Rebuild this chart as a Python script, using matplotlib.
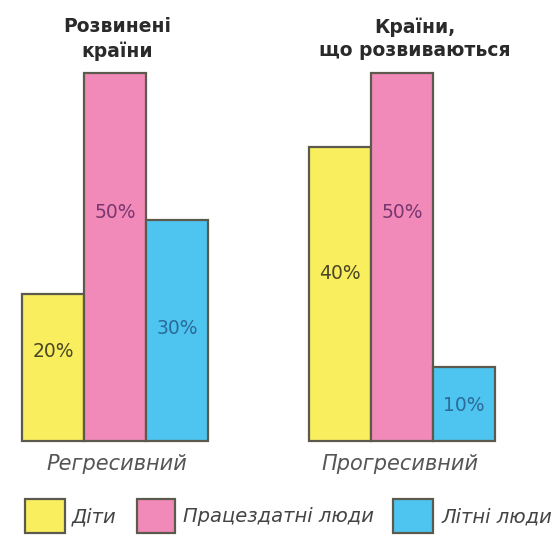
import matplotlib
matplotlib.use("Agg")
import matplotlib.pyplot as plt
from matplotlib.patches import Rectangle

# Data
groups = ["Розвинені\nкраїни", "Країни,\nщо розвиваються"]
pyramid_types = ["Регресивний", "Прогресивний"]
categories = ["Діти", "Працездатні люди", "Літні люди"]
values_developed = [20, 50, 30]
values_developing = [40, 50, 10]
value_labels_developed = ["20%", "50%", "30%"]
value_labels_developing = ["40%", "50%", "10%"]

colors = ["#f8ee5e", "#f28ab9", "#4ec4f0"]
edge = "#5c5a4c"
label_colors = ["#4a4626", "#7a3670", "#2c6a98"]
label_frac = [[0.61, 0.62, 0.51], [0.57, 0.62, 0.48]]

W, H = 559, 537
fig = plt.figure(figsize=(W / 100, H / 100), dpi=100)
ax = fig.add_axes([0, 0, 1, 1])
bw_px = 62.0
px_per_unit = 7.36
x_left = -0.5 - 22 / bw_px
ax.set_xlim(x_left, x_left + W / bw_px)
y_bot = -(537 - 441) / px_per_unit
ax.set_ylim(y_bot, y_bot + H / px_per_unit)
ax.axis("off")

group_offsets = [0.0, 4.63]
all_vals = [values_developed, values_developing]
all_labels = [value_labels_developed, value_labels_developing]
for g, (off, vals, labs) in enumerate(zip(group_offsets, all_vals, all_labels)):
    xs = [off + i for i in range(3)]
    ax.bar(xs, vals, width=1.0, color=colors, edgecolor=edge, linewidth=1.6)
    for i, (x, v, lab) in enumerate(zip(xs, vals, labs)):
        ax.text(x, v * label_frac[g][i], lab, ha="center", va="center",
                fontsize=13.5, color=label_colors[i], family="DejaVu Sans")

def fy(py):
    return 1 - py / H

def fx(px):
    return px / W

# titles
fig.text(fx(117), fy(39), groups[0], ha="center", va="center", fontsize=13.5,
         fontweight="bold", color="#2a2a2a", linespacing=1.3)
fig.text(fx(415), fy(39), groups[1], ha="center", va="center", fontsize=13.5,
         fontweight="bold", color="#2a2a2a", linespacing=1.3)

# pyramid type labels
fig.text(fx(117), fy(464), pyramid_types[0], ha="center", va="center",
         fontsize=15, style="italic", color="#555555")
fig.text(fx(400), fy(464), pyramid_types[1], ha="center", va="center",
         fontsize=15, style="italic", color="#555555")

# legend
sq = [(25, 65), (137, 175), (393, 433)]
txt_x = [72, 183, 442]
for (x0, x1), tx, c, name in zip(sq, txt_x, colors, categories):
    fig.patches.append(Rectangle((fx(x0), fy(533)), fx(x1) - fx(x0), fy(499) - fy(533),
                                 transform=fig.transFigure, facecolor=c,
                                 edgecolor=edge, linewidth=1.6))
    fig.text(fx(tx), fy(517), name, ha="left", va="center", fontsize=14,
             style="italic", color="#444444")

fig.savefig("out.png", dpi=100, facecolor="white")
